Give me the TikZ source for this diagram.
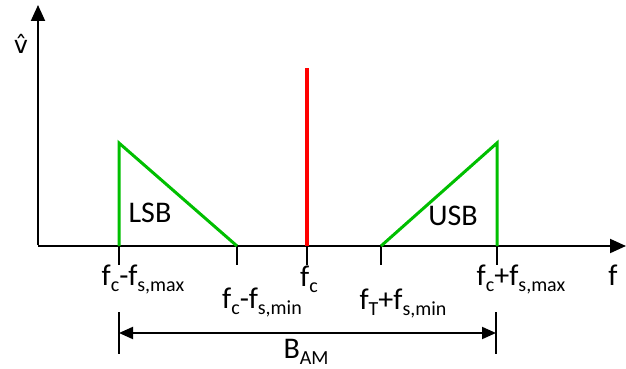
\documentclass[tikz,border=0pt]{standalone}
\usepackage{fontspec}
\setmainfont{Carlito}
\newfontfamily\dejavu{DejaVu Sans}
\usetikzlibrary{arrows.meta}
\newcommand{\lowsub}[1]{\raisebox{-0.22em}{\fontsize{20}{20}\selectfont #1}}
\begin{document}
\begin{tikzpicture}[x=1pt,y=-1pt,
  axis/.style={line width=2pt,black},
  tick/.style={line width=1.8pt,black},
  band/.style={line width=3pt,green!75!black,line join=miter},
  carrier/.style={line width=3.2pt,red},
  lbl/.style={font=\fontsize{30}{30}\selectfont,inner sep=0pt,anchor=base},
  tip/.style={-{Triangle[length=16pt,width=14pt]}}]
\useasboundingbox (0,0) rectangle (626,369);
% axes
\coordinate (O) at (38,246);
\coordinate (xend) at (626,246);
\coordinate (ytop) at (38,5);
\draw[axis,tip] (O) -- (xend);
\draw[axis,tip] ([yshift=1pt]O) -- (ytop);
% ticks
\coordinate (t1a) at (119,246); \coordinate (t1b) at (119,265);
\coordinate (t2a) at (237,246); \coordinate (t2b) at (237,265);
\coordinate (t3a) at (307,246); \coordinate (t3b) at (307,265);
\coordinate (t4a) at (381,246); \coordinate (t4b) at (381,265);
\coordinate (t5a) at (497,246); \coordinate (t5b) at (497,265);
\draw[tick] (t1a) -- (t1b);
\draw[tick] (t2a) -- (t2b);
\draw[tick] (t3a) -- (t3b);
\draw[tick] (t4a) -- (t4b);
\draw[tick] (t5a) -- (t5b);
% carrier
\coordinate (ctop) at (307,68);
\draw[carrier] (t3a) -- (ctop);
% sidebands
\coordinate (ltop) at (119,143);
\coordinate (utop) at (497,143);
\draw[band] (t1a) -- (ltop) -- (t2a);
\draw[band] (t4a) -- (utop) -- (t5a);
\node[lbl] (lsb) at (150,222) {LSB};
\node[lbl] (usb) at (453,225) {USB};
% labels
\node[lbl,font=\dejavu\fontsize{24}{24}\selectfont] (vhat) at (21,54) {v̂};
\node[lbl] (f) at (613,285) {f};
\node[lbl] (l1) at (143,285) {f\lowsub{c}-f\lowsub{s,max}};
\node[lbl] (l2) at (262,308) {f\lowsub{c}-f\lowsub{s,min}};
\node[lbl] (l3) at (309,286) {f\lowsub{c}};
\node[lbl] (l4) at (403,309) {f\lowsub{T}+f\lowsub{s,min}};
\node[lbl] (l5) at (521,285) {f\lowsub{c}+f\lowsub{s,max}};
% bandwidth
\coordinate (b1a) at (119,312); \coordinate (b1b) at (119,354);
\coordinate (b2a) at (496,312); \coordinate (b2b) at (496,354);
\coordinate (d1) at (119,333); \coordinate (d2) at (496,333);
\draw[tick] (b1a) -- (b1b);
\draw[tick] (b2a) -- (b2b);
\draw[axis,{Triangle[length=14pt,width=12pt]}-{Triangle[length=14pt,width=12pt]}] (d1) -- (d2);
\node[lbl] (bam) at (306,358) {B\lowsub{AM}};
\end{tikzpicture}
\end{document}
